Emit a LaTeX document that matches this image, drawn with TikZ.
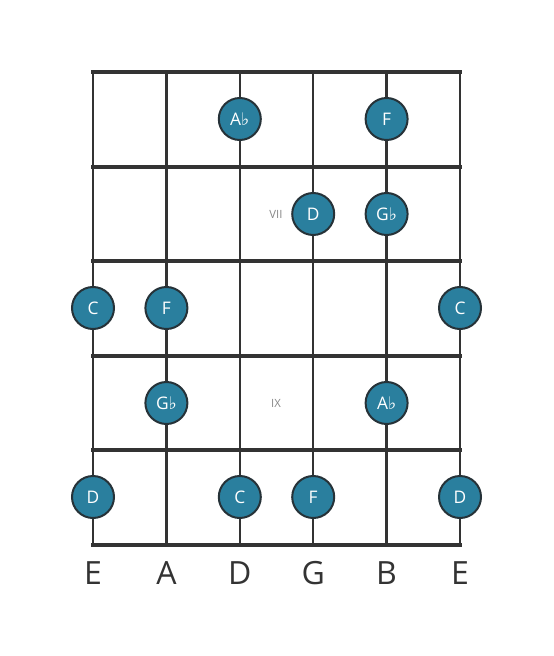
\documentclass[tikz,border=0pt]{standalone}
\usepackage{fontspec}
\setmainfont{Open Sans}
\newfontfamily\symfont{DejaVu Sans}
\newcommand{\flt}{{\symfont\char"266D}}
\definecolor{linec}{HTML}{333333}
\definecolor{dotfill}{HTML}{2A7F9E}
\definecolor{dotedge}{HTML}{263238}
\definecolor{labgray}{HTML}{888888}
\begin{document}
\begin{tikzpicture}[x=0.75pt,y=-0.75pt,
  fret/.style={draw=linec,line width=3pt,line cap=rect},
  strg/.style={draw=linec,line width=1.7pt},
  note/.style={circle,fill=dotfill,draw=dotedge,line width=1.5pt,minimum size=42*0.75pt,inner sep=0pt,text=white,font=\fontsize{13}{13}\selectfont},
  fretpos/.style={text=labgray,font=\fontsize{8.5}{9}\selectfont},
  sname/.style={text=linec,font=\fontsize{24}{24}\selectfont}]
\useasboundingbox (0,0) rectangle (553,656);
\foreach \i/\x in {1/93,2/166.4,3/239.8,4/313.2,5/386.6,6/460}{
  \coordinate (t\i) at (\x,72);
  \coordinate (b\i) at (\x,545);
  \draw[strg] (t\i) -- (b\i);
}
\foreach \j/\y in {0/72,1/166.6,2/261.2,3/355.8,4/450.4,5/545}{
  \coordinate (fl\j) at (93,\y);
  \coordinate (fr\j) at (460,\y);
  \draw[fret] (fl\j) -- (fr\j);
}
\node[note] (n1) at (239.8,119) {A\flt};
\node[note] (n2) at (386.6,119) {F};
\node[note] (n3) at (313.2,214) {D};
\node[note] (n4) at (386.6,214) {G\flt};
\node[note] (n5) at (93,308) {C};
\node[note] (n6) at (166.4,308) {F};
\node[note] (n7) at (460,308) {C};
\node[note] (n8) at (166.4,403) {G\flt};
\node[note] (n9) at (386.6,403) {A\flt};
\node[note] (n10) at (93,497) {D};
\node[note] (n11) at (239.8,497) {C};
\node[note] (n12) at (313.2,497) {F};
\node[note] (n13) at (460,497) {D};
\node[fretpos] (p7) at (276,214) {VII};
\node[fretpos] (p9) at (276,403) {IX};
\node[sname] (s1) at (93,573) {E};
\node[sname] (s2) at (166.4,573) {A};
\node[sname] (s3) at (239.8,573) {D};
\node[sname] (s4) at (313.2,573) {G};
\node[sname] (s5) at (386.6,573) {B};
\node[sname] (s6) at (460,573) {E};
\end{tikzpicture}
\end{document}
